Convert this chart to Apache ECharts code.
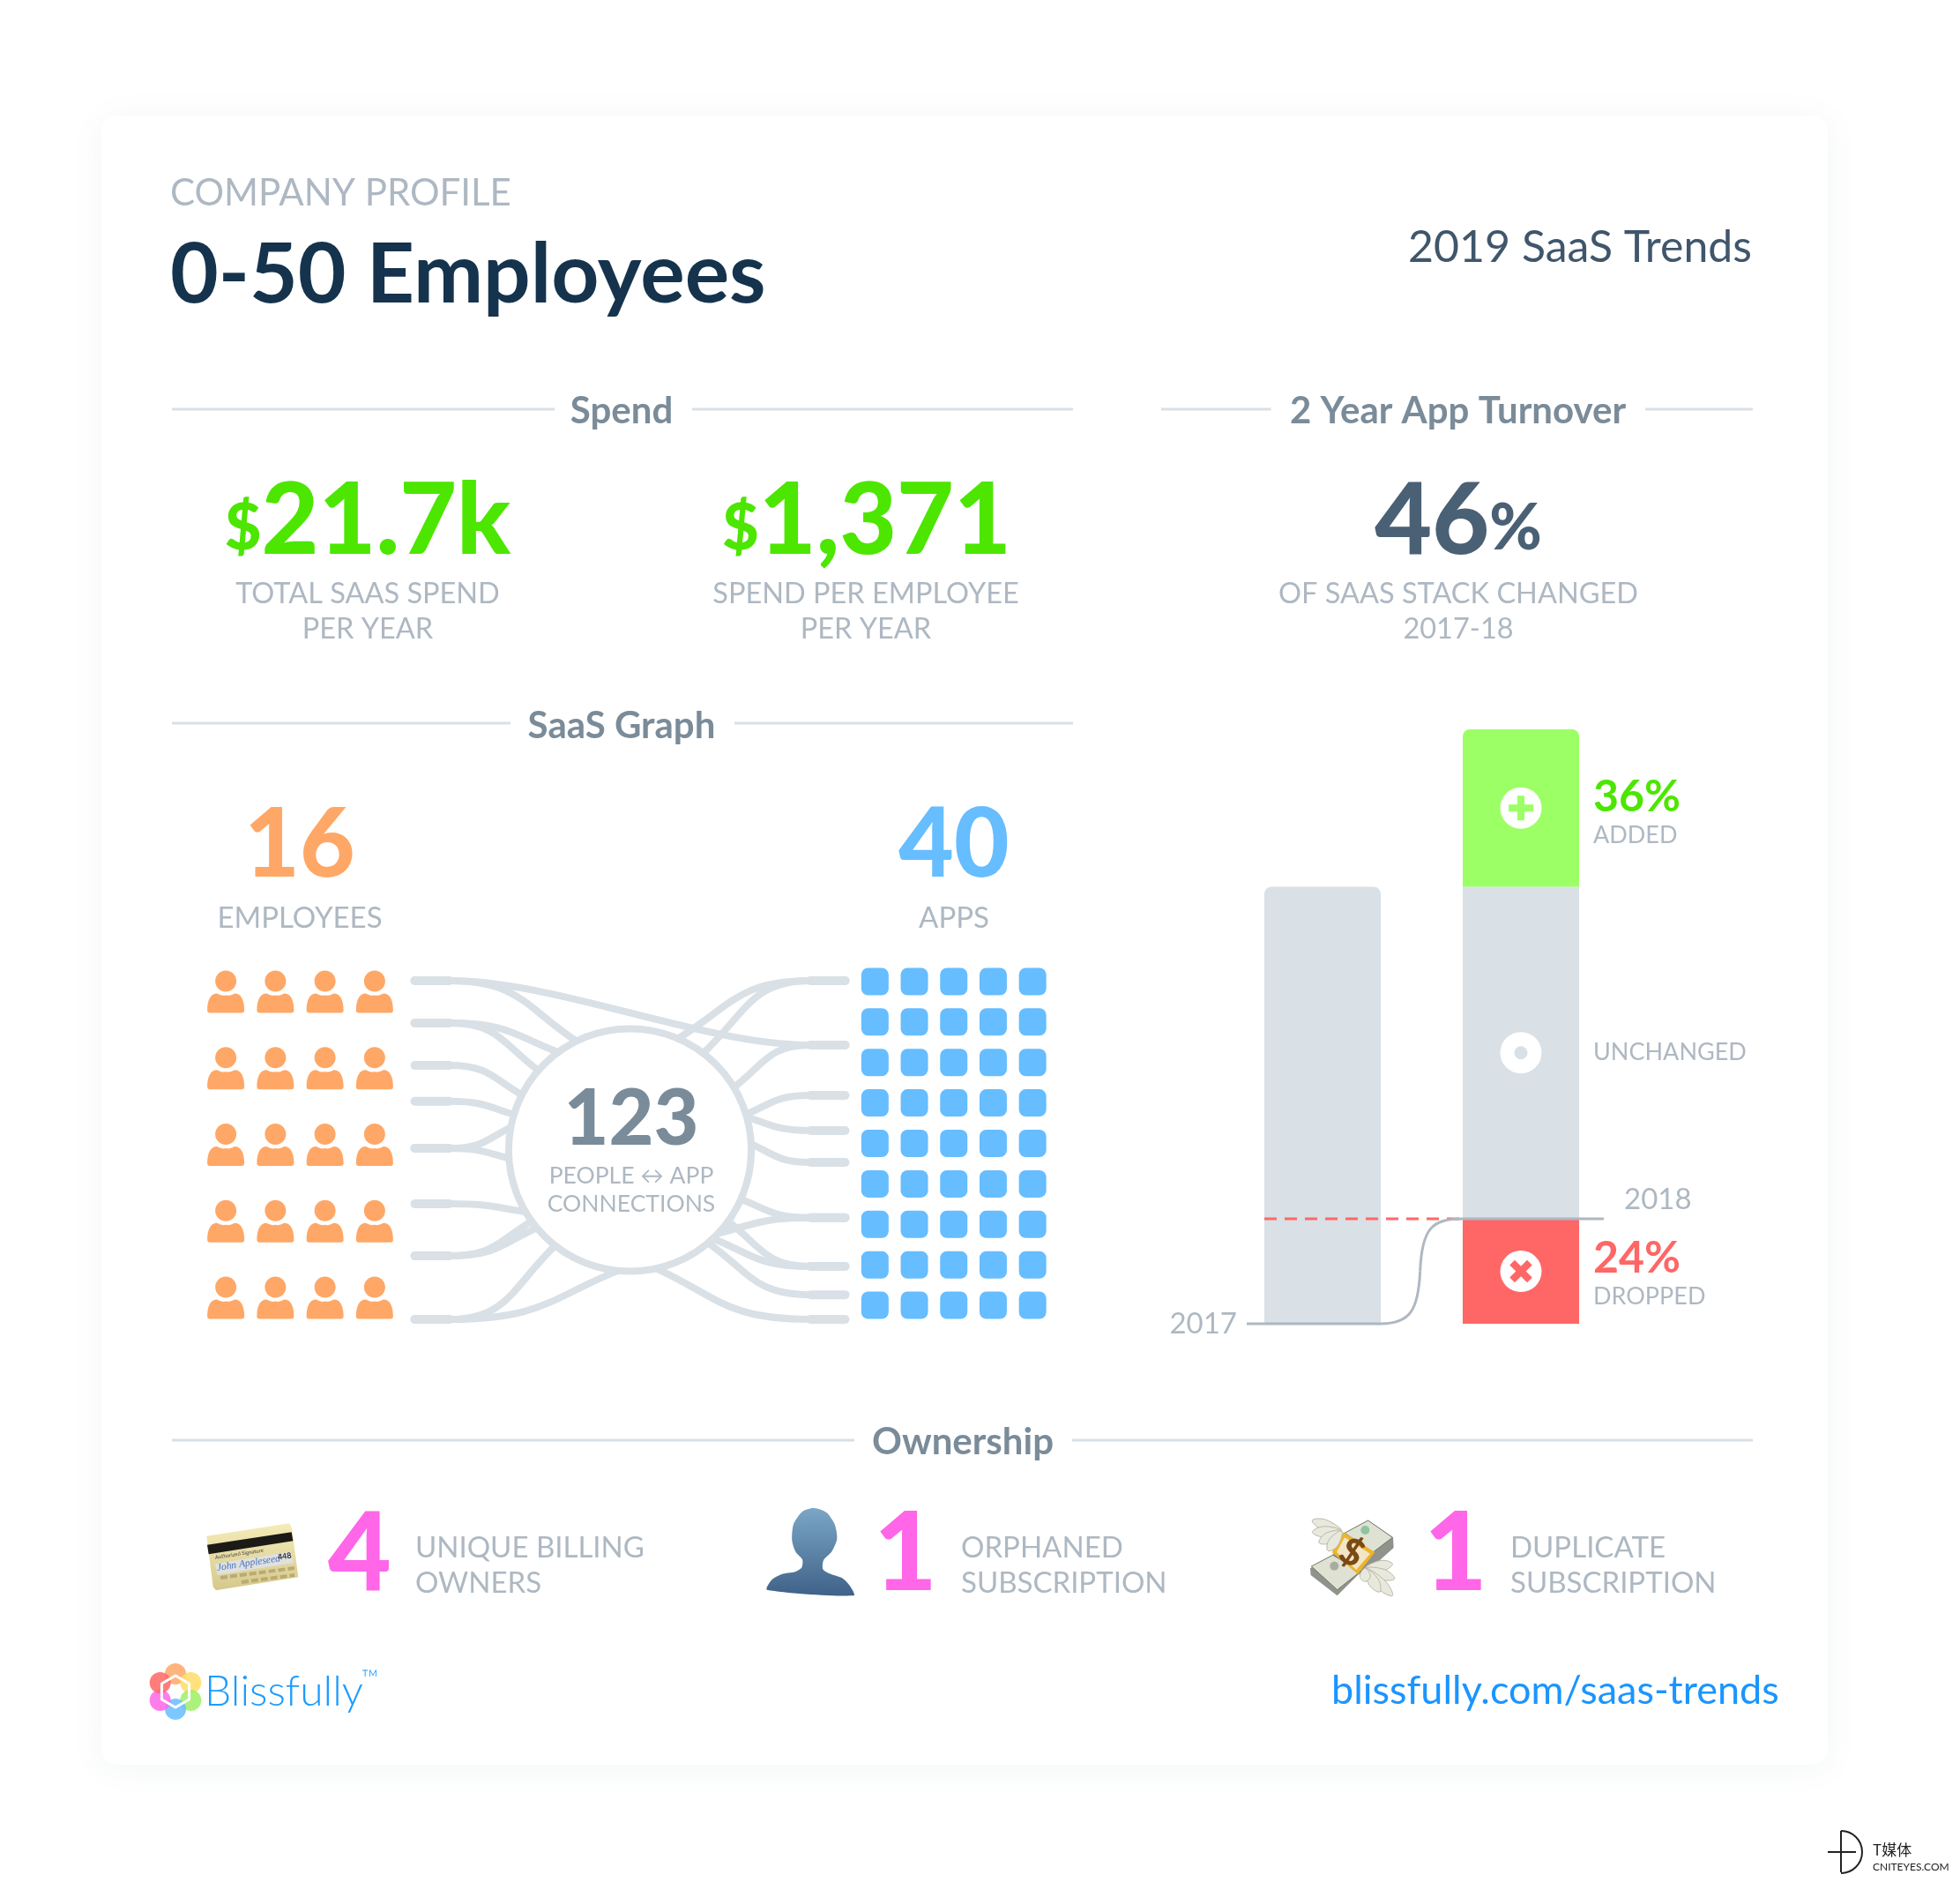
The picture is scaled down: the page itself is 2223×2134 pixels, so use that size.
<!DOCTYPE html>
<html>
<head>
<meta charset="utf-8">
<title>0-50 Employees</title>
<script src="https://cdn.jsdelivr.net/npm/echarts@6/dist/echarts.min.js"></script>
<style>
html,body{margin:0;padding:0;background:#fff}
#main{width:2223px;height:2134px}
</style>
</head>
<body>
<div id="main"></div>
<script>
// turnover bars, in percent of the 2017 stack
var years = ['2017', '2018'];
var droppedValues = [null, 24];
var unchangedValues = [100, 76];
var addedValues = [null, 36];

// saas graph counts
var employeeCount = 16;
var appCount = 40;
var connectionCount = 123;
var peopleRows = ['r1', 'r2', 'r3', 'r4', 'r5'];
var peopleCols = ['c1', 'c2', 'c3', 'c4'];
var appRows = ['r1', 'r2', 'r3', 'r4', 'r5', 'r6', 'r7', 'r8', 'r9'];
var appCols = ['c1', 'c2', 'c3', 'c4', 'c5'];

// links: [lane, angle on the hub in degrees]
var leftLinks = [[0, 116], [1, 126], [1, 139], [2, 153], [2.85, 163], [3.96, 169], [3.96, 184], [5.27, 211], [6.5, 216], [6.5, 220], [8, 232], [8, 265]];
var rightLinks = [[0, 67], [0, 53], [1.52, 31], [2.71, 17], [3.54, 16], [4.29, 3], [5.6, -24], [5.6, -44], [6.75, -36], [6.75, -47], [7.42, -50], [8, -78]];
var crossLinks = [[0, 1.52]];

var ownershipCounts = [4, 1, 1];
var ownershipLabels = [['UNIQUE BILLING', 'OWNERS'], ['ORPHANED', 'SUBSCRIPTION'], ['DUPLICATE', 'SUBSCRIPTION']];

var GREEN = '#4ce600', SLATE = '#4a6075', GREY = '#aeb8c2', HEAD = '#7a8b99', RULE = '#d9e0e6';
var LINK = '#d9e0e6', ORANGE = '#ffa766', BLUE = '#66bdff', PINK = '#ff66e8', RED = '#ff6666', LIME = '#9cff66';
var FONT = 'Lato';
var BAR_W = 132;

var PERSON = 'path://M21 0C27.6 0 33 5.4 33 12C33 18.6 27.6 24 21 24C14.4 24 9 18.6 9 12C9 5.4 14.4 0 21 0ZM11 26C15 28 18 29 21 28C24 29 27 28 31 26C38 26 42 33 42 45C42 47 41 48 39 48L3 48C1 48 0 47 0 45C0 33 4 26 11 26Z';
var PLUS = 'path://M10 0H18V10H28V18H18V28H10V18H0V10H10Z';

function txt(x, y, text, size, color, weight, align) {
    return {
        type: 'text', z: 10,
        style: {
            x: x, y: y, text: text, fill: color,
            font: (weight || 400) + ' ' + size + 'px ' + FONT,
            align: align || 'left', verticalAlign: 'middle'
        }
    };
}
function bigNum(x, y, unitFirst, unit, main, color) {
    var t = unitFirst ? '{u|' + unit + '}{m|' + main + '}' : '{m|' + main + '}{u|' + unit + '}';
    return {
        type: 'text', z: 10,
        style: {
            x: x, y: y, text: t, align: 'center', verticalAlign: 'middle',
            rich: {
                m: {font: '900 112px ' + FONT, fill: color, verticalAlign: 'bottom'},
                u: {font: '900 72px ' + FONT, fill: color, verticalAlign: 'bottom', padding: [0, 0, 12, 0]}
            }
        }
    };
}
function rule(x1, x2, y) {
    return {type: 'line', z: 5, shape: {x1: x1, y1: y, x2: x2, y2: y}, style: {stroke: RULE, lineWidth: 3}};
}
function heading(x, y, text) {
    return txt(x, y, text, 42, HEAD, 700, 'center');
}
function poly(ox, oy, k, pts, fill, smooth, stroke) {
    return {
        type: 'polygon', z: 8,
        shape: {points: pts.map(function (p) { return [ox + p[0] * k, oy + p[1] * k]; }), smooth: smooth || 0},
        style: {fill: fill, stroke: stroke || null, lineWidth: stroke ? 1 : 0}
    };
}
function vGrad(a, b) {
    return new echarts.graphic.LinearGradient(0, 0, 0, 1, [{offset: 0, color: a}, {offset: 1, color: b}]);
}
function tinyText(x, y, rot, text, font, color, align) {
    return {type: 'text', z: 9, x: x, y: y, rotation: rot, style: {x: 0, y: 0, text: text, fill: color, font: font, align: align || 'left', verticalAlign: 'middle'}};
}

function cardIcon() {
    var list = [
        poly(220, 1710, 1 / 3, [[43, 95], [325, 52], [333, 70], [355, 235], [75, 280], [65, 268]], vGrad('#f4ecb8', '#d6c88c')),
        poly(220, 1710, 1 / 3, [[45, 125], [332, 82], [337, 112], [50, 157]], '#1c1a16'),
        poly(220, 1710, 1 / 3, [[72, 190], [330, 148], [338, 186], [80, 228]], '#dfe1df')
    ];
    list.push(tinyText(244, 1766, 0.15, 'Authorized Signature', '400 6px ' + FONT, '#444'));
    list.push(tinyText(246, 1778, 0.15, 'John Appleseed', 'italic 11.5px "Liberation Serif"', '#4a72c0'));
    list.push(tinyText(315, 1766, 0.15, '448', '700 9px ' + FONT, '#333'));
    list.push({type: 'line', z: 9, shape: {x1: 250, y1: 1789, x2: 334, y2: 1778}, style: {stroke: '#b9ab72', lineWidth: 4, lineDash: [8, 3]}});
    list.push({type: 'line', z: 9, shape: {x1: 274, y1: 1794, x2: 334, y2: 1786}, style: {stroke: '#b9ab72', lineWidth: 4, lineDash: [8, 3]}});
    return list;
}
function silhouetteIcon() {
    return [poly(860, 1700, 1 / 3, [[30, 308], [45, 275], [80, 255], [125, 247], [148, 232], [150, 205], [128, 180], [115, 140], [120, 85], [150, 42], [190, 30], [232, 45], [260, 85], [268, 135], [250, 178], [222, 208], [220, 238], [240, 252], [285, 268], [312, 295], [325, 328]], vGrad('#7ba6c6', '#3f6288'), 0.25)];
}
function feather(o, k, root, tip, w) {
    var dx = tip[0] - root[0], dy = tip[1] - root[1];
    var len = Math.sqrt(dx * dx + dy * dy), nx = -dy / len * w, ny = dx / len * w;
    return poly(o[0], o[1], k, [root, [root[0] + dx * 0.6 + nx, root[1] + dy * 0.6 + ny], tip, [root[0] + dx * 0.6 - nx, root[1] + dy * 0.6 - ny]], '#e8e8dc', 0.4, '#b9b9a9');
}
function moneyIcon() {
    var o = [1480, 1710], k = 1 / 3;
    var list = [
        poly(o[0], o[1], k, [[18, 205], [95, 158], [135, 88], [215, 42], [300, 100], [302, 135], [235, 195], [180, 228], [110, 298], [20, 228]], '#8f938b'),
        poly(o[0], o[1], k, [[135, 85], [215, 42], [298, 100], [232, 150]], '#dfe2d2', 0, '#6f7a68'),
        poly(o[0], o[1], k, [[22, 198], [95, 160], [190, 215], [110, 278]], '#dfe2d2', 0, '#6f7a68'),
        {type: 'circle', z: 8, shape: {cx: 1480 + 205 * k, cy: 1710 + 75 * k, r: 5}, style: {fill: '#8fc4a0'}},
        {type: 'circle', z: 8, shape: {cx: 1480 + 100 * k, cy: 1710 + 197 * k, r: 5}, style: {fill: '#a9ad9f'}},
        poly(o[0], o[1], k, [[130, 82], [238, 150], [180, 225], [92, 150]], '#f0b429'),
        poly(o[0], o[1], k, [[135, 100], [222, 155], [175, 210], [108, 150]], '#f1e6c6'),
        tinyText(1533, 1761, -0.5, '$', '900 42px ' + FONT, '#7b4a14', 'center')
    ];
    var rootA = [125, 78], tipsA = [[25, 42], [25, 82], [48, 118], [78, 145]];
    var rootB = [205, 205], tipsB = [[298, 190], [305, 240], [298, 298], [255, 285], [205, 250]];
    tipsA.forEach(function (t) { list.push(feather(o, k, rootA, t, 18)); });
    tipsB.forEach(function (t) { list.push(feather(o, k, rootB, t, 18)); });
    return list;
}
function logoIcon() {
    var cols = ['#ffa766', '#ffdd66', '#9cf066', '#66bdff', '#ff66e8', '#ff6666'];
    var cx = 199, cy = 1918;
    var list = cols.map(function (c, i) {
        var a = -Math.PI / 2 + i * Math.PI / 3;
        return {type: 'circle', z: 8, shape: {cx: cx + 20 * Math.cos(a), cy: cy + 20 * Math.sin(a), r: 12}, style: {fill: c, opacity: 0.85}};
    });
    var hex = [];
    for (var i = 0; i < 6; i++) {
        var a = -Math.PI / 2 + i * Math.PI / 3;
        hex.push([cx + 18 * Math.cos(a), cy + 18 * Math.sin(a)]);
    }
    list.push({type: 'polygon', z: 9, shape: {points: hex}, style: {fill: 'rgba(0,0,0,0)', stroke: '#fff', lineWidth: 3}});
    return list;
}
function watermark() {
    return [
        {type: 'line', z: 8, shape: {x1: 2088, y1: 2076, x2: 2088, y2: 2123}, style: {stroke: '#222', lineWidth: 2}},
        {type: 'line', z: 8, shape: {x1: 2073, y1: 2100, x2: 2105, y2: 2100}, style: {stroke: '#222', lineWidth: 2}},
        {type: 'arc', z: 8, shape: {cx: 2088, cy: 2100, r: 24, startAngle: -Math.PI / 2, endAngle: Math.PI / 2}, style: {stroke: '#222', lineWidth: 2, fill: 'none'}},
        {type: 'text', z: 8, style: {x: 2124, y: 2098, text: 'T媒体', fill: '#222', font: '400 17px "Noto Sans CJK SC"', verticalAlign: 'middle'}},
        {type: 'text', z: 8, style: {x: 2124, y: 2117, text: 'CNITEYES.COM', fill: '#222', font: '400 12px ' + FONT, verticalAlign: 'middle'}}
    ];
}

var elements = [
    {type: 'rect', z: 0, shape: {x: 115, y: 131, width: 1958, height: 1870, r: 18}, style: {fill: '#fff', shadowBlur: 36, shadowColor: 'rgba(90,110,130,0.07)', shadowOffsetY: 4}},
    txt(193, 219, 'COMPANY PROFILE', 42, GREY),
    txt(193, 312.5, '0-50 Employees', 94.5, '#16334d', 700),
    txt(1987, 281, '2019 SaaS Trends', 50, '#3f566b', 400, 'right'),
    rule(195, 629, 464), rule(785, 1217, 464), heading(705, 466, 'Spend'),
    rule(1317, 1441.5, 464), rule(1866, 1988, 464), heading(1653.5, 466, '2 Year App Turnover'),
    bigNum(417, 592, true, '$', '21.7k', GREEN),
    txt(417, 673.5, 'TOTAL SAAS SPEND', 32.5, GREY, 400, 'center'), txt(417, 713.5, 'PER YEAR', 32.5, GREY, 400, 'center'),
    bigNum(983, 592, true, '$', '1,371', GREEN),
    txt(982, 673.5, 'SPEND PER EMPLOYEE', 32.5, GREY, 400, 'center'), txt(982, 713.5, 'PER YEAR', 32.5, GREY, 400, 'center'),
    bigNum(1654, 592, false, '%', '46', SLATE),
    txt(1654, 673.5, 'OF SAAS STACK CHANGED', 32.5, GREY, 400, 'center'), txt(1654, 713.5, '2017-18', 32.5, GREY, 400, 'center'),
    rule(195, 579, 820), rule(833, 1217, 820), heading(705, 823, 'SaaS Graph'),
    txt(340, 959, String(employeeCount), 108, ORANGE, 900, 'center'), txt(340, 1041, 'EMPLOYEES', 33, GREY, 400, 'center'),
    txt(1082, 959, String(appCount), 108, BLUE, 900, 'center'), txt(1082, 1041, 'APPS', 33, GREY, 400, 'center'),
    txt(716, 1269.5, String(connectionCount), 88, HEAD, 900, 'center'),
    txt(716, 1333.5, 'PEOPLE ↔ APP', 26.5, GREY, 400, 'center'), txt(716, 1365.5, 'CONNECTIONS', 26.5, GREY, 400, 'center'),
    rule(195, 969, 1633), rule(1216, 1988, 1633), heading(1092, 1635, 'Ownership'),
    txt(1510, 1917, 'blissfully.com/saas-trends', 45, '#1a95ff', 400, 'left'),
    txt(232, 1919, 'Blissfully', 48, '#1a9cff', 300), txt(410, 1904, '™', 26, '#1a9cff', 300)
];
[[408, 471], [1027, 1090], [1651, 1713]].forEach(function (p, i) {
    elements.push(txt(p[0], 1763, String(ownershipCounts[i]), 124, PINK, 900, 'center'));
    elements.push(txt(p[1], 1755, ownershipLabels[i][0], 33, GREY));
    elements.push(txt(p[1], 1795, ownershipLabels[i][1], 33, GREY));
});
elements = elements.concat(cardIcon(), silhouetteIcon(), moneyIcon(), logoIcon(), watermark());

function cells(rows, cols) {
    var out = [];
    rows.forEach(function (r, ri) {
        cols.forEach(function (c, ci) { out.push([ci, ri]); });
    });
    return out;
}

function hubPoint(api, angle) {
    var c = api.coord([50, 4]);
    var r = api.size([28, 0])[0];
    var a = angle * Math.PI / 180;
    return [c[0] + r * Math.cos(a), c[1] - r * Math.sin(a)];
}
function tube(x1, y1, x2, y2) {
    return {type: 'line', shape: {x1: x1, y1: y1, x2: x2, y2: y2}, style: {stroke: LINK, lineWidth: 10, lineCap: 'round'}};
}
function curve(s, cp1, cp2, t) {
    return {type: 'bezierCurve', shape: {x1: s[0], y1: s[1], cpx1: cp1[0], cpy1: cp1[1], cpx2: cp2[0], cpy2: cp2[1], x2: t[0], y2: t[1]}, style: {stroke: LINK, lineWidth: 8, fill: 'none'}};
}
function renderPort(side) {
    return function (params, api) {
        var lane = api.value(0), angle = api.value(1);
        var end = api.coord([side < 0 ? 0 : 100, lane]);
        var s = api.coord([side < 0 ? 8 : 92, lane]);
        var t = hubPoint(api, angle);
        var dx = t[0] - s[0], dy = t[1] - s[1];
        return {type: 'group', children: [
            tube(end[0], end[1], s[0], s[1]),
            curve(s, [s[0] + 0.55 * dx, s[1]], [s[0] + 0.6 * dx, s[1] + 0.45 * dy], t)
        ]};
    };
}
function renderCross(params, api) {
    var a = api.coord([0, api.value(0)]), s = api.coord([8, api.value(0)]);
    var b = api.coord([100, api.value(1)]), e = api.coord([92, api.value(1)]);
    var d = (e[0] - s[0]) * 0.3;
    return {type: 'group', children: [
        tube(a[0], a[1], s[0], s[1]), tube(e[0], e[1], b[0], b[1]),
        curve(s, [s[0] + d, s[1]], [e[0] - d, e[1]], e)
    ]};
}
function renderHub(params, api) {
    var c = api.coord([50, 4]);
    return {type: 'circle', shape: {cx: c[0], cy: c[1], r: api.size([28.2, 0])[0]}, style: {fill: '#fff', stroke: LINK, lineWidth: 8}};
}
function renderGuide(params, api) {
    var a = api.coord([0, 0]), b = api.coord([1, droppedValues[1]]);
    var half = BAR_W / 2;
    var x0 = a[0] + half, x1 = b[0] - half, y0 = a[1], y1 = b[1];
    var midX = x0 + (x1 - x0) * 0.48, midY = (y0 + y1) / 2;
    var sty = {stroke: GREY, lineWidth: 3, fill: 'none'};
    return {type: 'group', children: [
        {type: 'line', shape: {x1: a[0] - half, y1: y1, x2: x1, y2: y1}, style: {stroke: RED, lineWidth: 3, lineDash: [14, 9]}},
        {type: 'line', shape: {x1: a[0] - half - 20, y1: y0, x2: x0, y2: y0}, style: sty},
        {type: 'bezierCurve', shape: {x1: x0, y1: y0, cpx1: x0 + 33, cpy1: y0, cpx2: midX - 2, cpy2: y0 - 15, x2: midX, y2: midY}, style: sty},
        {type: 'bezierCurve', shape: {x1: midX, y1: midY, cpx1: midX + 2, cpy1: y1 + 11, cpx2: midX + 13, cpy2: y1, x2: x1, y2: y1}, style: sty},
        {type: 'line', shape: {x1: x1, y1: y1, x2: b[0] + half + 28, y2: y1}, style: sty},
        {type: 'text', style: {x: a[0] - half - 31, y: y0, text: years[0], fill: GREY, font: '400 33px ' + FONT, align: 'right', verticalAlign: 'middle'}},
        {type: 'text', style: {x: b[0] + half + 51, y: y1 - 22, text: years[1], fill: GREY, font: '400 33px ' + FONT, verticalAlign: 'middle'}}
    ]};
}

function barLabel(pct, color, name) {
    return {
        show: true, position: 'right', distance: 16,
        formatter: function (p) {
            if (p.dataIndex !== 1) return '';
            return pct ? '{p|' + p.value + '%}\n{n|' + name + '}' : '{n|' + name + '}';
        },
        rich: {
            p: {fontFamily: FONT, fontSize: 50, fontWeight: 700, color: color, lineHeight: 50, align: 'left'},
            n: {fontFamily: FONT, fontSize: 27, fontWeight: 400, color: GREY, lineHeight: 37, align: 'left'}
        }
    };
}

var dropMid = droppedValues[1] / 2;
var keepMid = droppedValues[1] + unchangedValues[1] / 2;
var addMid = droppedValues[1] + unchangedValues[1] + addedValues[1] / 2;

var chart = echarts.init(document.getElementById('main'));
chart.setOption({
    backgroundColor: '#fff',
    animation: false,
    graphic: {elements: elements},
    grid: [
        {left: 1387.5, width: 450, top: 827, height: 674},
        {left: 228, width: 225, top: 1081, height: 434},
        {left: 470.5, width: 488, top: 1112, height: 384},
        {left: 970, width: 223.5, top: 1090, height: 413}
    ],
    xAxis: [
        {gridIndex: 0, type: 'category', data: years, show: false},
        {gridIndex: 1, type: 'category', data: peopleCols, show: false},
        {gridIndex: 2, type: 'value', min: 0, max: 100, show: false},
        {gridIndex: 3, type: 'category', data: appCols, show: false}
    ],
    yAxis: [
        {gridIndex: 0, type: 'value', min: 0, max: 136, show: false},
        {gridIndex: 1, type: 'category', data: peopleRows, inverse: true, show: false},
        {gridIndex: 2, type: 'value', min: 0, max: 8, inverse: true, show: false},
        {gridIndex: 3, type: 'category', data: appRows, inverse: true, show: false}
    ],
    series: [
        {name: 'Dropped', type: 'bar', stack: 'turnover', barWidth: BAR_W, xAxisIndex: 0, yAxisIndex: 0, data: droppedValues,
            itemStyle: {color: RED}, label: barLabel(true, RED, 'DROPPED'), labelLayout: {dy: 4}},
        {name: 'Unchanged', type: 'bar', stack: 'turnover', barWidth: BAR_W, xAxisIndex: 0, yAxisIndex: 0, itemStyle: {color: '#d9e0e6'},
            data: unchangedValues.map(function (v, i) { return i === 0 ? {value: v, itemStyle: {borderRadius: [8, 8, 0, 0]}} : v; }),
            label: barLabel(false, GREY, 'UNCHANGED')},
        {name: 'Added', type: 'bar', stack: 'turnover', barWidth: BAR_W, xAxisIndex: 0, yAxisIndex: 0, data: addedValues,
            itemStyle: {color: LIME, borderRadius: [8, 8, 0, 0]}, label: barLabel(true, GREEN, 'ADDED'), labelLayout: {dy: 6}},
        {name: 'Guide', type: 'custom', xAxisIndex: 0, yAxisIndex: 0, clip: false, z: 4, data: [[0, 0]], renderItem: renderGuide},
        {name: 'Badges', type: 'scatter', xAxisIndex: 0, yAxisIndex: 0, z: 5, symbol: 'circle', symbolSize: 47, itemStyle: {color: '#fff', opacity: 1},
            data: [[1, addMid], [1, keepMid], [1, dropMid]]},
        {name: 'Badge glyphs', type: 'scatter', xAxisIndex: 0, yAxisIndex: 0, z: 6, itemStyle: {opacity: 1},
            data: [
                {value: [1, addMid], symbol: PLUS, symbolSize: 28, itemStyle: {color: LIME}},
                {value: [1, keepMid], symbol: 'circle', symbolSize: 15, itemStyle: {color: '#d9e0e6'}},
                {value: [1, dropMid], symbol: PLUS, symbolSize: 28, symbolRotate: 45, itemStyle: {color: RED}}
            ]},
        {name: 'People', type: 'scatter', xAxisIndex: 1, yAxisIndex: 1, symbol: PERSON, symbolSize: [42, 48], itemStyle: {color: ORANGE, opacity: 1},
            data: cells(peopleRows, peopleCols)},
        {name: 'Left links', type: 'custom', xAxisIndex: 2, yAxisIndex: 2, clip: false, z: 2, data: leftLinks, renderItem: renderPort(-1)},
        {name: 'Right links', type: 'custom', xAxisIndex: 2, yAxisIndex: 2, clip: false, z: 2, data: rightLinks, renderItem: renderPort(1)},
        {name: 'Cross link', type: 'custom', xAxisIndex: 2, yAxisIndex: 2, clip: false, z: 2, data: crossLinks, renderItem: renderCross},
        {name: 'Hub', type: 'custom', xAxisIndex: 2, yAxisIndex: 2, clip: false, z: 3, data: [[50, 4]], renderItem: renderHub},
        {name: 'Apps', type: 'scatter', xAxisIndex: 3, yAxisIndex: 3, symbol: 'roundRect', symbolSize: 31, itemStyle: {color: BLUE, opacity: 1},
            data: cells(appRows, appCols)}
    ]
});
</script>
</body>
</html>
